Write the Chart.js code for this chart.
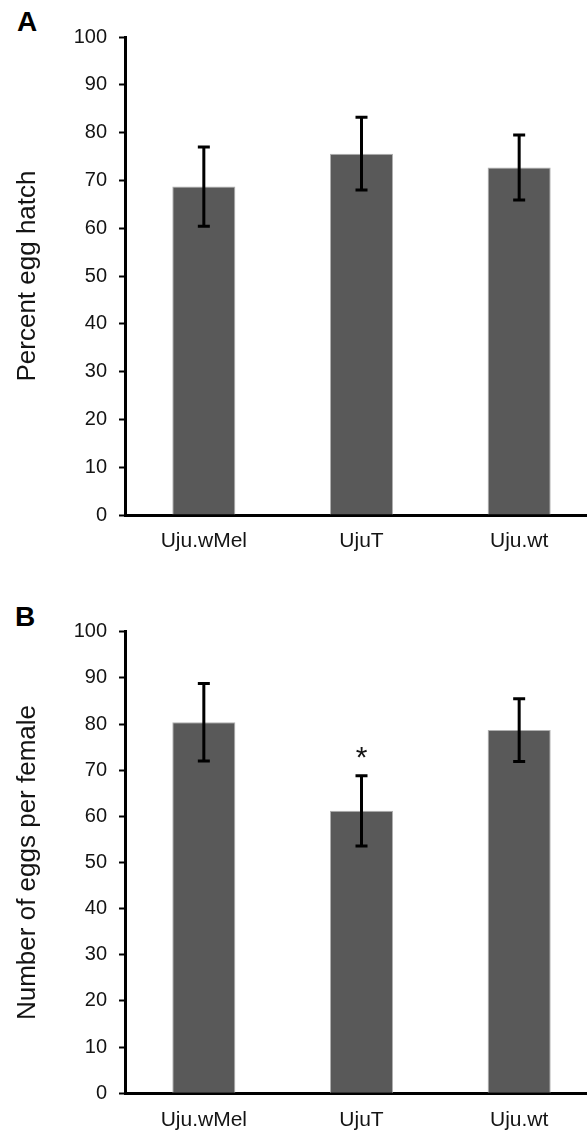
<!DOCTYPE html>
<html>
<head>
<meta charset="utf-8">
<title>Egg hatch and eggs per female</title>
<script src="https://cdn.jsdelivr.net/npm/chart.js@4.4.1/dist/chart.umd.min.js"></script>
<style>
  html, body { margin: 0; padding: 0; background: #fff; }
  #figure { position: relative; width: 587px; height: 1133px; overflow: hidden; }
  #figure canvas { position: absolute; left: 0; }
  .panel-label {
    position: absolute;
    font: bold 28px "Liberation Sans", Arial, sans-serif;
    line-height: 28px;
    color: #000;
  }
</style>
</head>
<body>
<div id="figure">
  <span class="panel-label" style="left:17px;top:8px">A</span>
  <canvas id="chart-hatch" width="600" height="566" style="top:0"></canvas>
  <span class="panel-label" style="left:15px;top:603px">B</span>
  <canvas id="chart-eggs" width="600" height="567" style="top:566px"></canvas>
</div>
<script>
const lines = ["Uju.wMel", "UjuT", "Uju.wt"];

const hatchMeans = [68.7, 75.6, 72.7];
const hatchErrors = [8.3, 7.6, 6.8];

const eggMeans = [80.4, 61.2, 78.7];
const eggErrors = [8.4, 7.6, 6.8];
const eggMarks = ["", "*", ""];

const textColor = "#141414";
Chart.defaults.font.family = '"Liberation Sans", Arial, sans-serif';
Chart.defaults.color = textColor;

// draws +/- error whiskers and significance marks over each bar
function errorBarPlugin(means, errors, marks) {
  return {
    id: "errorBars",
    afterDatasetsDraw(chart) {
      const ctx = chart.ctx;
      const y = chart.scales.y;
      const bars = chart.getDatasetMeta(0).data;
      ctx.save();
      ctx.strokeStyle = "#000";
      ctx.lineWidth = 3;
      bars.forEach((bar, i) => {
        const hi = y.getPixelForValue(means[i] + errors[i]);
        const lo = y.getPixelForValue(means[i] - errors[i]);
        ctx.beginPath();
        ctx.moveTo(bar.x, hi);
        ctx.lineTo(bar.x, lo);
        ctx.moveTo(bar.x - 6, hi);
        ctx.lineTo(bar.x + 6, hi);
        ctx.moveTo(bar.x - 6, lo);
        ctx.lineTo(bar.x + 6, lo);
        ctx.stroke();

        if (marks && marks[i]) {
          ctx.font = '30px "Liberation Sans", Arial, sans-serif';
          ctx.fillStyle = textColor;
          ctx.textAlign = "center";
          ctx.textBaseline = "alphabetic";
          const m = ctx.measureText(marks[i]);
          const centerY = hi - 23;
          const baseline = centerY + (m.actualBoundingBoxAscent - m.actualBoundingBoxDescent) / 2;
          ctx.fillText(marks[i], bar.x, baseline);
        }
      });
      ctx.restore();
    }
  };
}

function makeChart(canvasId, means, errors, marks, yTitle, topPad, xAxisHeight) {
  const ctx = document.getElementById(canvasId).getContext("2d");
  return new Chart(ctx, {
    type: "bar",
    data: {
      labels: lines,
      datasets: [{
        data: means,
        backgroundColor: "#595959",
        borderColor: "#b0b0b0",
        borderWidth: 1,
        categoryPercentage: 1,
        barPercentage: 0.4
      }]
    },
    options: {
      responsive: false,
      animation: false,
      devicePixelRatio: 1,
      layout: { padding: { top: topPad, right: 2, left: 0, bottom: 0 } },
      plugins: {
        legend: { display: false },
        tooltip: { enabled: false }
      },
      scales: {
        x: {
          grid: { display: false, drawTicks: false },
          border: { color: "#000", width: 3 },
          ticks: { padding: 14, color: textColor, font: { size: 21 } },
          afterFit(scale) { scale.height = xAxisHeight; }
        },
        y: {
          min: 0,
          max: 100,
          ticks: { stepSize: 10, padding: 12, color: textColor, font: { size: 20 } },
          grid: { drawOnChartArea: false, tickLength: 6, tickWidth: 2, tickColor: "#000" },
          border: { color: "#000", width: 3 },
          title: {
            display: true,
            text: yTitle,
            color: textColor,
            font: { size: 26 },
            padding: { top: 12, bottom: 0 }
          },
          afterFit(scale) { scale.width = 125; }
        }
      }
    },
    plugins: [errorBarPlugin(means, errors, marks)]
  });
}

makeChart("chart-hatch", hatchMeans, hatchErrors, null, "Percent egg hatch", 37, 51);
makeChart("chart-eggs", eggMeans, eggErrors, eggMarks, "Number of eggs per female", 65.7, 39.7);
</script>
</body>
</html>
